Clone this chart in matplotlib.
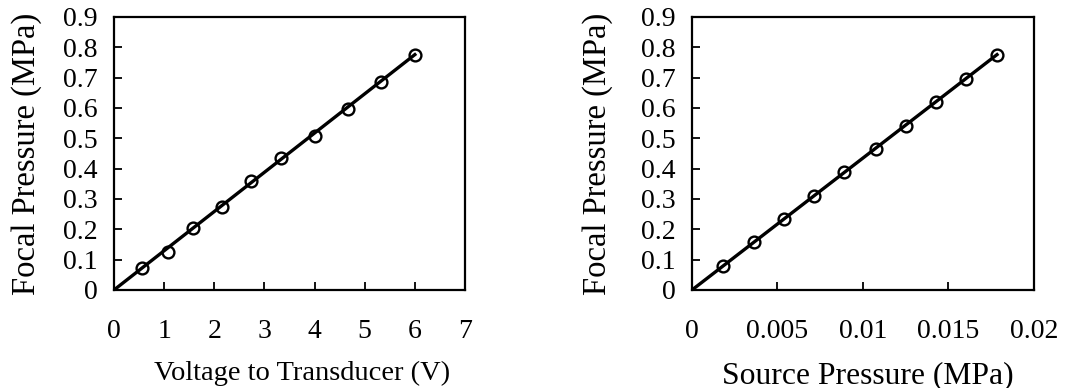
import matplotlib
matplotlib.use('Agg')
from matplotlib import pyplot as plt

plt.rcParams['font.family'] = ['Liberation Serif', 'DejaVu Serif']

# left panel: voltage vs focal pressure
voltage = [0.55, 1.08, 1.58, 2.15, 2.73, 3.33, 4.0, 4.67, 5.33, 6.0]
focal_v = [0.071, 0.126, 0.206, 0.272, 0.359, 0.435, 0.507, 0.598, 0.686, 0.776]
fit_v_x = [0, 6.0]
fit_v_y = [0, 0.776]

# right panel: source pressure vs focal pressure
source = [0.00179, 0.0036, 0.00537, 0.00714, 0.00889, 0.01076, 0.01251, 0.01426, 0.01605, 0.01784]
focal_s = [0.080, 0.157, 0.233, 0.311, 0.388, 0.464, 0.541, 0.620, 0.695, 0.776]
fit_s_x = [0, 0.01784]
fit_s_y = [0, 0.776]

y_ticks = [0, 0.1, 0.2, 0.3, 0.4, 0.5, 0.6, 0.7, 0.8, 0.9]
y_labels = ['0', '0.1', '0.2', '0.3', '0.4', '0.5', '0.6', '0.7', '0.8', '0.9']
v_ticks = [0, 1, 2, 3, 4, 5, 6, 7]
v_labels = ['0', '1', '2', '3', '4', '5', '6', '7']
s_ticks = [0, 0.005, 0.01, 0.015, 0.02]
s_labels = ['0', '0.005', '0.01', '0.015', '0.02']

fig = plt.figure(figsize=(10.68, 3.88), dpi=100)
ax1 = fig.add_axes([0.1067, 0.2526, 0.3287, 0.7036])
ax2 = fig.add_axes([0.6479, 0.2526, 0.3202, 0.7036])


def setup(ax, xs, ys, fx, fy, xt, xl, xlim, xlabel, xlab_pos, xlab_size, ylab_x):
    ax.plot(fx, fy, color='black', linewidth=2.4, zorder=2)
    ax.plot(xs, ys, linestyle='none', marker='o', markersize=8.5,
            markerfacecolor='none', markeredgecolor='black', markeredgewidth=1.7, zorder=3)
    ax.set_xlim(xlim)
    ax.set_ylim(0, 0.9)
    ax.set_xticks(xt)
    ax.set_xticklabels(xl)
    ax.set_yticks(y_ticks)
    ax.set_yticklabels(y_labels)
    ax.tick_params(axis='both', direction='in', length=6, width=1.3, labelsize=20)
    ax.tick_params(axis='x', pad=21)
    ax.tick_params(axis='y', pad=12)
    for sp in ax.spines.values():
        sp.set_linewidth(1.6)
    ax.set_xlabel(xlabel, fontsize=xlab_size)
    ax.xaxis.set_label_coords(xlab_pos, -0.26)
    ax.set_ylabel('Focal Pressure (MPa)', fontsize=23.5)
    ax.yaxis.set_label_coords(ylab_x, 0.5)


setup(ax1, voltage, focal_v, fit_v_x, fit_v_y, v_ticks, v_labels, (0, 7),
      'Voltage to Transducer (V)', 0.536, 20.5, -0.205)
setup(ax2, source, focal_s, fit_s_x, fit_s_y, s_ticks, s_labels, (0, 0.02),
      'Source Pressure (MPa)', 0.513, 22.8, -0.23)

plt.savefig('out.png', dpi=100)
